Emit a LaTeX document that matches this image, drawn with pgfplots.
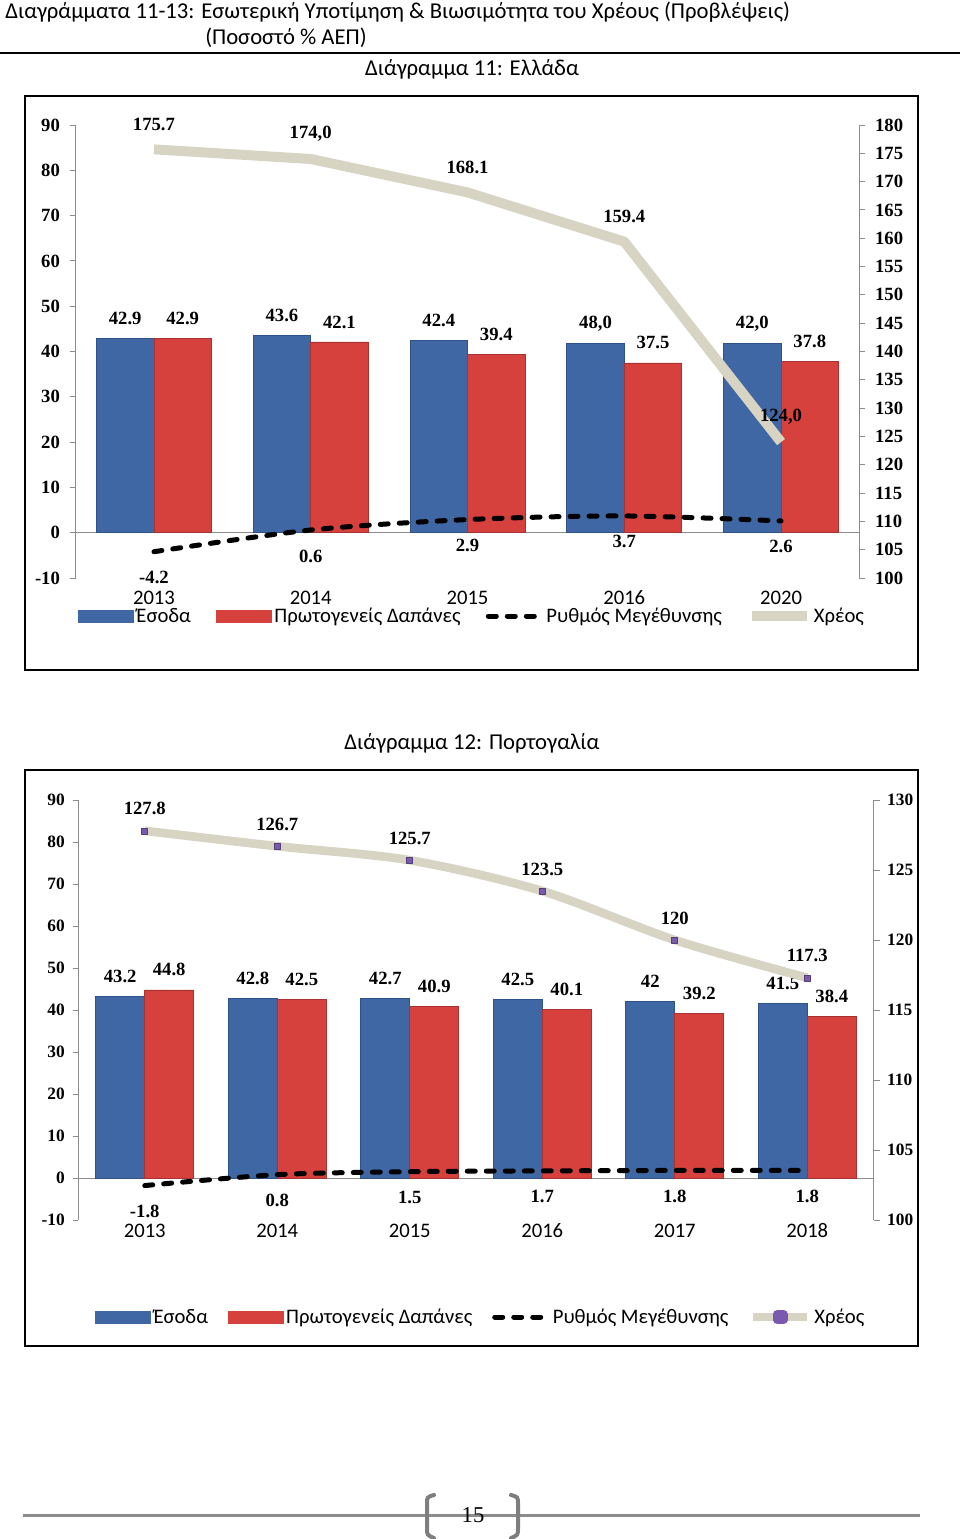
\documentclass[border=0pt]{standalone}
\usepackage{pgfplots}
\pgfplotsset{compat=1.18}
\usepackage{fontspec}
\setmainfont{Carlito}
\newfontfamily\serifnum{Liberation Serif}
\definecolor{barblue}{HTML}{3E67A3}
\definecolor{barblueD}{HTML}{30528A}
\definecolor{barred}{HTML}{D6403D}
\definecolor{barredD}{HTML}{A83230}
\definecolor{debtc}{HTML}{D8D4C3}
\definecolor{axisgray}{HTML}{8C8C8C}
\definecolor{mkpurple}{HTML}{7A5AAE}
\newcommand\lblA{\serifnum\bfseries\fontsize{14}{14}\selectfont}
\newcommand\tickA{\serifnum\bfseries\fontsize{14}{14}\selectfont}
\newcommand\tickB{\serifnum\bfseries\fontsize{13}{13}\selectfont}
\newcommand\txtA{\fontsize{15.5}{15.5}\selectfont}
\newcommand\ttl{\fontsize{17}{17}\selectfont}
\pgfplotsset{
  common/.style={scale only axis, clip=false, tick align=outside, major tick length=4.5pt,
    tick style={draw=axisgray, line width=0.75pt},
    axis line style={draw=axisgray, line width=0.75pt}},
  lbl/.style={nodes near coords, point meta=explicit symbolic,
    nodes near coords style={font=#1, text=black, anchor=center}},
  growth/.style={black, line width=3.75pt, dash pattern=on 6pt off 8.25pt, line cap=round, smooth},
}
\begin{document}
\begin{tikzpicture}
\begin{scope}[x=0.75pt,y=-0.75pt]
\useasboundingbox (0,0) rectangle (960,1539);
\node[anchor=west, inner sep=0pt, font=\ttl] at (5,12) {Διαγράμματα 11-13: Εσωτερική Υποτίμηση \& Βιωσιμότητα του Χρέους (Προβλέψεις)};
\node[anchor=west, inner sep=0pt, font=\ttl] at (205,38) {(Ποσοστό \% ΑΕΠ)};
\draw[line width=1.5pt] (0,53) -- (960,53);
\node[inner sep=0pt, font=\ttl] at (472,69) {Διάγραμμα 11: Ελλάδα};
\node[inner sep=0pt, font=\ttl] at (472,743) {Διάγραμμα 12: Πορτογαλία};
\draw[line width=1.5pt] (25,96) rectangle (918,670);
\draw[line width=1.5pt] (25,770) rectangle (918,1346);
\draw[color=axisgray, line width=2.25pt] (23,1515) -- (920,1515);
\draw[color=axisgray!90!black, line width=3pt, line cap=round] (434,1495) .. controls (427,1497) .. (427,1504) -- (427,1528) .. controls (427,1535) .. (434,1538);
\draw[color=axisgray!90!black, line width=3pt, line cap=round] (511,1495) .. controls (518,1497) .. (518,1504) -- (518,1528) .. controls (518,1535) .. (511,1538);
\node[inner sep=0pt, font=\serifnum\fontsize{17}{17}\selectfont] at (473,1515) {15};
\end{scope}

% ---------------- Chart 11: Greece ----------------
\begin{axis}[common,
  at={(56.7pt,-433.5pt)}, anchor=south west, width=587.85pt, height=339.75pt,
  xmin=-0.5, xmax=4.5, ymin=-10, ymax=90,
  axis y line*=left, axis x line*=bottom, x axis line style={draw=none},
  xtick={0,1,2,3,4}, xticklabels={2013,2014,2015,2016,2020},
  major x tick style={draw=none},
  xticklabel style={font=\txtA, anchor=center, yshift=-10.5pt},
  ytick={-10,0,10,20,30,40,50,60,70,80,90},
  yticklabels={-10,0,10,20,30,40,50,60,70,80,90},
  yticklabel style={font=\tickA, xshift=-3.75pt},
  extra y ticks={0}, extra y tick labels={},
  extra y tick style={major tick length=0pt, grid=major, major grid style={draw=axisgray, line width=0.75pt}},
]
\addplot[ybar, bar width=43.125pt, bar shift=-21.5625pt, fill=barblue, draw=barblueD, line width=0.4pt,
  lbl=\lblA, nodes near coords style={yshift=15pt, xshift=-21.5625pt}] table[x=x, y=y, meta=l] {
x y l
0 42.9 42.9
1 43.6 43.6
2 42.4 42.4
3 41.8 48,0
4 41.8 42,0
};
\addplot[ybar, bar width=43.125pt, bar shift=21.5625pt, fill=barred, draw=barredD, line width=0.4pt,
  lbl=\lblA, nodes near coords style={yshift=15pt, xshift=21.5625pt}] table[x=x, y=y, meta=l] {
x y l
0 42.9 42.9
1 42.1 42.1
2 39.4 39.4
3 37.5 37.5
4 37.8 37.8
};
\addplot[growth, lbl=\lblA, nodes near coords style={yshift=-19.5pt}] table[x=x, y=y, meta=l] {
x y l
0 -4.2 -4.2
1 0.6 0.6
2 2.9 2.9
3 3.7 3.7
4 2.6 2.6
};
\end{axis}
\begin{axis}[common,
  at={(56.7pt,-433.5pt)}, anchor=south west, width=587.85pt, height=339.75pt,
  xmin=-0.5, xmax=4.5, ymin=100, ymax=180,
  axis y line*=right, axis x line=none,
  ytick={100,105,...,180},
  yticklabels={100,105,110,115,120,125,130,135,140,145,150,155,160,165,170,175,180},
  yticklabel style={font=\tickA, xshift=3.75pt},
  legend columns=4, legend cell align=left,
  legend style={at={(0.003,-0.0839)}, anchor=west, draw=none, fill=none, font=\txtA, inner sep=0pt,
    /tikz/every even column/.append style={column sep=17pt}},
]
\addlegendimage{legend image code/.code={\fill[barblue] (0pt,-4.5pt) rectangle (41.25pt,4.5pt);}}
\addlegendentry{Έσοδα}
\addlegendimage{legend image code/.code={\fill[barred] (0pt,-4.5pt) rectangle (41.25pt,4.5pt);}}
\addlegendentry{Πρωτογενείς Δαπάνες}
\addlegendimage{legend image code/.code={\draw[black, line width=3.75pt, dash pattern=on 6pt off 8.25pt, line cap=round] (1.9pt,0pt) -- (41.6pt,0pt);}}
\addlegendentry{Ρυθμός Μεγέθυνσης}
\addplot[debtc, line width=7.5pt, line join=round, sharp plot,
  legend image code/.code={\draw[debtc, line width=7pt] (0pt,0pt) -- (41pt,0pt);},
  lbl=\lblA, nodes near coords style={yshift=18.75pt}] table[x=x, y=y, meta=l] {
x y l
0 175.7 175.7
1 174.0 174,0
2 168.1 168.1
3 159.4 159.4
4 124.0 124,0
};
\addlegendentry{Χρέος}
\end{axis}

% ---------------- Chart 12: Portugal ----------------
\begin{axis}[common,
  at={(58.875pt,-915pt)}, anchor=south west, width=596.25pt, height=315pt,
  xmin=-0.5, xmax=5.5, ymin=-10, ymax=90,
  axis y line*=left, axis x line*=bottom, x axis line style={draw=none},
  xtick={0,1,2,3,4,5}, xticklabels={2013,2014,2015,2016,2017,2018},
  major x tick style={draw=none},
  xticklabel style={font=\txtA, anchor=center, yshift=-3.75pt},
  ytick={-10,0,10,20,30,40,50,60,70,80,90},
  yticklabels={-10,0,10,20,30,40,50,60,70,80,90},
  yticklabel style={font=\tickB, xshift=-2.25pt},
  extra y ticks={0}, extra y tick labels={},
  extra y tick style={major tick length=0pt, grid=major, major grid style={draw=axisgray, line width=0.75pt}},
]
\addplot[ybar, bar width=36.75pt, bar shift=-18.375pt, fill=barblue, draw=barblueD, line width=0.4pt,
  lbl=\lblA, nodes near coords style={yshift=15pt, xshift=-18.375pt}] table[x=x, y=y, meta=l] {
x y l
0 43.2 43.2
1 42.8 42.8
2 42.7 42.7
3 42.5 42.5
4 42 42
5 41.5 41.5
};
\addplot[ybar, bar width=36.75pt, bar shift=18.375pt, fill=barred, draw=barredD, line width=0.4pt,
  lbl=\lblA, nodes near coords style={yshift=15pt, xshift=18.375pt}] table[x=x, y=y, meta=l] {
x y l
0 44.8 44.8
1 42.5 42.5
2 40.9 40.9
3 40.1 40.1
4 39.2 39.2
5 38.4 38.4
};
\addplot[growth, lbl=\lblA, nodes near coords style={yshift=-19.5pt}] table[x=x, y=y, meta=l] {
x y l
0 -1.8 -1.8
1 0.8 0.8
2 1.5 1.5
3 1.7 1.7
4 1.8 1.8
5 1.8 1.8
};
\end{axis}
\begin{axis}[common,
  at={(58.875pt,-915pt)}, anchor=south west, width=596.25pt, height=315pt,
  xmin=-0.5, xmax=5.5, ymin=100, ymax=130,
  axis y line*=right, axis x line=none,
  ytick={100,105,...,130},
  yticklabels={100,105,110,115,120,125,130},
  yticklabel style={font=\tickB, xshift=2.25pt},
  legend columns=4, legend cell align=left,
  legend style={at={(0.0208,-0.231)}, anchor=west, draw=none, fill=none, font=\txtA, inner sep=0pt,
    /tikz/every even column/.append style={column sep=13pt}},
]
\addlegendimage{legend image code/.code={\fill[barblue] (0pt,-4.5pt) rectangle (41.25pt,4.5pt);}}
\addlegendentry{Έσοδα}
\addlegendimage{legend image code/.code={\fill[barred] (0pt,-4.5pt) rectangle (41.25pt,4.5pt);}}
\addlegendentry{Πρωτογενείς Δαπάνες}
\addlegendimage{legend image code/.code={\draw[black, line width=3.75pt, dash pattern=on 6pt off 8.25pt, line cap=round] (1.9pt,0pt) -- (41.6pt,0pt);}}
\addlegendentry{Ρυθμός Μεγέθυνσης}
\addplot[debtc, line width=6.5pt, line join=round, smooth,
  mark=square*, mark size=2.25pt, mark options={fill=mkpurple, draw=mkpurple!70!black, line width=0.4pt},
  legend image code/.code={\draw[debtc, line width=6.5pt] (0pt,0pt) -- (41pt,0pt);
     \fill[mkpurple] (18.5pt,-2.25pt) rectangle (23pt,2.25pt);},
  lbl=\lblA, nodes near coords style={yshift=16.5pt}] table[x=x, y=y, meta=l] {
x y l
0 127.8 127.8
1 126.7 126.7
2 125.7 125.7
3 123.5 123.5
4 120 120
5 117.3 117.3
};
\addlegendentry{Χρέος}
\end{axis}
\end{tikzpicture}
\end{document}
